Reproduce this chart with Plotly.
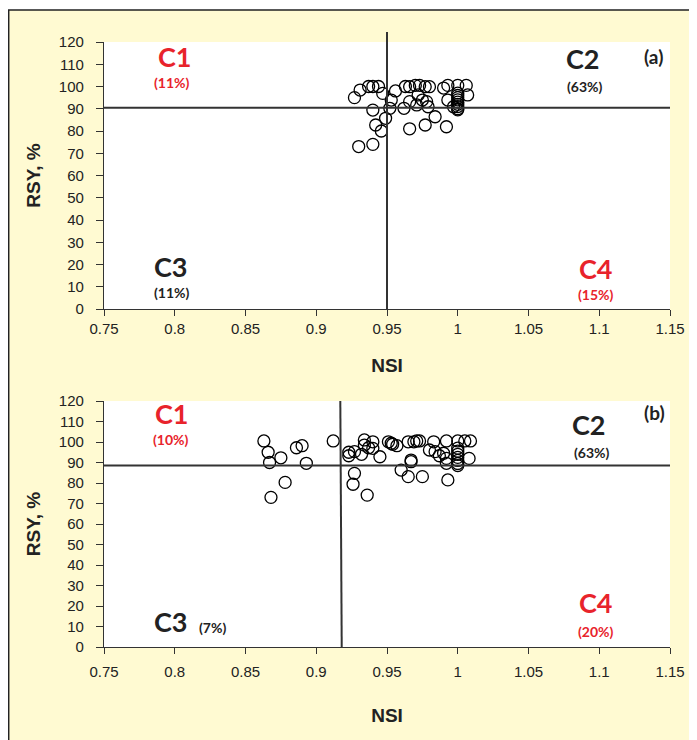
import plotly.graph_objects as go
from plotly.subplots import make_subplots

# ---- data (a) ----
a_nsi = [0.927, 0.931, 0.937, 0.940, 0.944, 0.947, 0.953, 0.956, 0.963, 0.966, 0.966,
         0.940, 0.952, 0.962, 0.949, 0.942, 0.946, 0.930, 0.940, 0.966,
         0.970, 0.973, 0.977, 0.980, 0.972, 0.975, 0.971, 0.978, 0.979, 0.990,
         0.993, 1.000, 1.006, 1.007, 0.993,
         1.000, 1.000, 1.000, 1.000, 1.000, 1.000, 1.000, 1.000, 1.000,
         0.997, 0.984, 0.977, 0.992]
a_rsy = [95.0, 98.4, 100.0, 100.0, 100.0, 96.9, 93.9, 98.0, 100.0, 99.9, 93.2,
         89.4, 90.2, 90.2, 85.7, 82.7, 80.0, 73.0, 74.0, 81.0,
         100.5, 100.5, 99.9, 99.9, 96.2, 93.9, 91.7, 93.2, 90.9, 99.3,
         100.5, 100.5, 100.5, 96.2, 93.9,
         97.0, 96.0, 95.0, 94.0, 93.0, 92.0, 91.0, 90.0, 89.5,
         90.9, 86.4, 82.7, 81.9]

# ---- data (b) ----
b_nsi = [0.863, 0.866, 0.867, 0.875, 0.886, 0.890, 0.893, 0.912, 0.878, 0.868,
         0.923, 0.923, 0.927, 0.932, 0.934, 0.934, 0.937, 0.940, 0.940, 0.945,
         0.951, 0.953, 0.954, 0.957, 0.965, 0.969, 0.967, 0.960, 0.965, 0.927,
         0.926, 0.936,
         0.971, 0.973, 0.983, 0.980, 0.984, 0.987, 0.990, 0.992, 0.992, 0.992,
         1.000, 1.005, 1.009,
         1.000, 1.000, 1.000, 1.000, 1.000, 1.000, 1.000,
         1.008, 0.967, 0.975, 0.993]
b_rsy = [100.5, 95.0, 90.0, 92.3, 97.2, 98.2, 89.6, 100.5, 80.3, 73.0,
         93.3, 95.0, 95.3, 94.0, 101.0, 98.5, 97.2, 100.1, 96.9, 92.8,
         100.1, 99.4, 98.9, 98.2, 100.1, 100.1, 90.4, 86.3, 83.1, 84.7,
         79.4, 74.1,
         100.5, 100.5, 100.1, 96.1, 95.3, 93.3, 94.5, 100.5, 92.0, 89.6,
         100.5, 100.5, 100.5,
         97.0, 95.5, 94.0, 92.5, 91.0, 89.5, 88.5,
         92.0, 91.2, 83.1, 81.5]

# thresholds
a_nsi_thr = 0.95
a_rsy_thr = 90.5
b_nsi_thr_top = 0.917
b_nsi_thr_bot = 0.918
b_rsy_thr = 88.5

x_ticks = [0.75, 0.8, 0.85, 0.9, 0.95, 1.0, 1.05, 1.1, 1.15]
x_ticktext = ["0.75", "0.8", "0.85", "0.9", "0.95", "1", "1.05", "1.1", "1.15"]
y_ticks = list(range(0, 121, 10))

RED = "#e8232b"
DARK = "#222222"
BEIGE = "#fffad2"

# page body has an 8px margin; figure sized to fill the rest of the window
OFF = 8
W, H = 697 - OFF, 740 - OFF
L, R, T, B = 96, 27, 34, 93
ph = H - T - B
pw = W - L - R

fig = make_subplots(rows=2, cols=1)

mk = dict(symbol="circle-open", size=12, color="black", line=dict(width=1.3, color="black"))
fig.add_trace(go.Scatter(x=a_nsi, y=a_rsy, mode="markers", marker=mk, showlegend=False), row=1, col=1)
fig.add_trace(go.Scatter(x=b_nsi, y=b_rsy, mode="markers", marker=mk, showlegend=False), row=2, col=1)

# page-pixel helpers
px2x = lambda px: (px - OFF - L) / pw
py2y = lambda py: (H - B - (py - OFF)) / ph

top_dom = [py2y(309), 1.0]
bot_dom = [0.0, py2y(401)]

tickfont = dict(family="Liberation Sans Narrow, Arial Narrow, sans-serif", size=15, color=DARK)
titlefont = dict(family="Liberation Sans Narrow, Arial Narrow, sans-serif", size=19, color=DARK, weight="bold")

xcommon = dict(range=[0.75, 1.15], tickvals=x_ticks, ticktext=x_ticktext, showgrid=False, zeroline=False,
               showline=True, linecolor="#333", linewidth=1.2, ticks="outside", ticklen=6, tickcolor="#333",
               tickfont=tickfont, title_font=titlefont)
ycommon = dict(range=[0, 120], tickvals=y_ticks, showgrid=False, zeroline=False,
               showline=True, linecolor="#333", linewidth=1.2, ticks="outside", ticklen=7, tickcolor="#333",
               tickfont=tickfont, title_font=titlefont, ticklabelstandoff=9)

fig.update_xaxes(**xcommon, title_text="NSI", title_standoff=22, row=1, col=1)
fig.update_xaxes(**xcommon, title_text="NSI", title_standoff=29, ticklabelstandoff=5, row=2, col=1)
fig.update_yaxes(**ycommon, title_text="RSY, %", title_standoff=13, domain=top_dom, row=1, col=1)
fig.update_yaxes(**ycommon, title_text="RSY, %", title_standoff=13, domain=bot_dom, row=2, col=1)

shapes = []
# white strip above the beige panel, and the panel's border
shapes.append(dict(type="rect", xref="paper", yref="paper", x0=px2x(0), x1=px2x(720), y0=py2y(10), y1=py2y(0),
                   fillcolor="white", line=dict(width=0), layer="below"))
shapes.append(dict(type="rect", xref="paper", yref="paper", x0=px2x(8.7), x1=px2x(720), y0=py2y(760), y1=py2y(10),
                   fillcolor="rgba(0,0,0,0)", line=dict(width=1.5, color="#222"), layer="above"))

line = dict(color="#333", width=2)
# (a) thresholds
shapes.append(dict(type="line", xref="x", yref="y domain", x0=a_nsi_thr, x1=a_nsi_thr, y0=0, y1=1.037, line=line))
shapes.append(dict(type="line", xref="x domain", yref="y", x0=0, x1=1, y0=a_rsy_thr, y1=a_rsy_thr, line=line))
# (b) thresholds
shapes.append(dict(type="line", xref="x2", yref="y2 domain", x0=b_nsi_thr_bot, x1=b_nsi_thr_top, y0=0, y1=1.0, line=line))
shapes.append(dict(type="line", xref="x2 domain", yref="y2", x0=0, x1=1, y0=b_rsy_thr, y1=b_rsy_thr, line=line))

fig.update_layout(shapes=shapes)

lab_font = "Lato, Open Sans, sans-serif"
def ann(xref, yref, x, y, text, color, size, bold=True):
    return dict(xref=xref, yref=yref, x=x, y=y, text=text, showarrow=False,
                font=dict(family=lab_font, size=size, color=color, weight="bold" if bold else "normal"),
                xanchor="center", yanchor="middle")

BIG, SMALL = 27, 14
anns = [
    ann("x", "y", 0.800, 113.3, "C1", RED, BIG),
    ann("x", "y", 0.798, 102.0, "(11%)", RED, SMALL),
    ann("x", "y", 1.0885, 112.8, "C2", DARK, BIG),
    ann("x", "y", 1.090, 99.8, "(63%)", DARK, SMALL),
    ann("x", "y", 1.138, 113.7, "(a)", DARK, 19),
    ann("x", "y", 0.797, 18.9, "C3", DARK, BIG),
    ann("x", "y", 0.798, 7.6, "(11%)", DARK, SMALL),
    ann("x", "y", 1.098, 18.4, "C4", RED, BIG),
    ann("x", "y", 1.098, 6.3, "(15%)", RED, SMALL),
    ann("x2", "y2", 0.798, 114.1, "C1", RED, BIG),
    ann("x2", "y2", 0.797, 101.0, "(10%)", RED, SMALL),
    ann("x2", "y2", 1.093, 108.3, "C2", DARK, BIG),
    ann("x2", "y2", 1.095, 95.1, "(63%)", DARK, SMALL),
    ann("x2", "y2", 1.139, 114.6, "(b)", DARK, 19),
    ann("x2", "y2", 0.797, 12.2, "C3", DARK, BIG),
    ann("x2", "y2", 0.827, 9.3, "(7%)", DARK, SMALL),
    ann("x2", "y2", 1.098, 21.5, "C4", RED, BIG),
    ann("x2", "y2", 1.098, 7.8, "(20%)", RED, SMALL),
]

fig.update_layout(
    width=W, height=H,
    margin=dict(l=L, r=R, t=T, b=B, pad=0),
    paper_bgcolor=BEIGE, plot_bgcolor="white",
    annotations=anns,
    font=dict(family="Liberation Sans Narrow, sans-serif", color=DARK),
)

fig.write_html("out.html")
